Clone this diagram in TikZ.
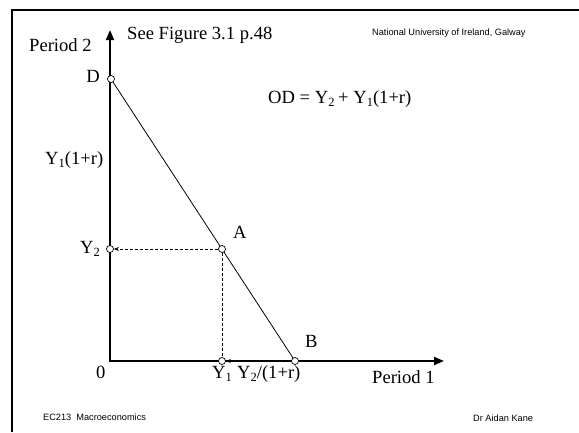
\documentclass[tikz,border=0pt]{standalone}
\usepackage{fontspec}
\setmainfont{Liberation Serif}
\newfontfamily\arialfont{Liberation Sans}
\usetikzlibrary{arrows.meta}
\pgfdeclarelayer{bg}
\pgfsetlayers{bg,main}
\newcommand\lowsub[1]{\raisebox{-0.45ex}{\fontsize{12.5}{12.5}\selectfont #1}}
\begin{document}
\begin{tikzpicture}[x=1pt,y=-1pt,
  axis/.style={line width=2pt,{Triangle[length=10pt,width=8pt]}-{Triangle[length=10pt,width=8pt]}},
  ptc/.style={circle,draw,fill=white,inner sep=0pt,minimum size=7pt,line width=0.7pt},
  lbl/.style={font=\fontsize{18.6}{20}\selectfont,inner sep=0pt,anchor=base west},
  lble/.style={lbl,anchor=base east},
  small/.style={font=\arialfont\fontsize{9.2}{10}\selectfont,inner sep=0pt,anchor=base west},
  guide/.style={line width=0.7pt,dash pattern=on 3pt off 2pt},
  budget/.style={line width=0.8pt}]
\useasboundingbox (0,0) rectangle (579,432);
\draw[line width=2pt] (11.5,432) -- (11.5,9.5) -- (579,9.5);
% axes
\coordinate (O) at (110,361);
\coordinate (ytip) at (110,30);
\coordinate (xtip) at (444,361);
\draw[axis] (ytip) -- (O) -- (xtip);
% points
\node[ptc] (D) at (111,79) {};
\node[ptc] (A) at (222,249) {};
\node[ptc] (B) at (295,361) {};
\node[ptc] (Y2p) at (110,249) {};
\node[ptc] (Y1p) at (222,361) {};
\begin{pgfonlayer}{bg}
\draw[budget] (D.center) -- (B.center);
\end{pgfonlayer}
\draw[guide,-{Stealth[length=5pt,width=4pt]}] (A) -- (Y2p);
\draw[guide] (A) -- (Y1p);
\draw[budget,-{Stealth[length=5pt,width=4pt]}] (B) -- (Y1p);
% labels
\node[lbl] (p2) at (29,51) {Period 2};
\node[lbl] (see) at (127,39) {See Figure 3.1 p.48};
\node[small] (nui) at (372,35) {National University of Ireland, Galway};
\node[lble] (Dl) at (100,82) {D};
\node[lbl] (od) at (268,103) {OD = Y\lowsub{2}\kern-1pt{} + Y\lowsub{1}(1+r)};
\node[lbl] (y1r) at (45,164) {Y\lowsub{1}(1+r)};
\node[lble] (y2l) at (100,253) {Y\lowsub{2}};
\node[lbl] (Al) at (233,238) {A};
\node[lbl] (Bl) at (305,347) {B};
\node[lbl] (zero) at (96,378) {0};
\node[lbl] (y1l) at (212,378) {Y\lowsub{1}};
\node[lbl] (y2r) at (237,378) {Y\lowsub{2}/(1+r)};
\node[lbl] (p1) at (372,383) {Period 1};
\node[small] (ec) at (43,420) {EC213\ \ Macroeconomics};
\node[small] (dr) at (473,421) {Dr Aidan Kane};
\end{tikzpicture}
\end{document}
